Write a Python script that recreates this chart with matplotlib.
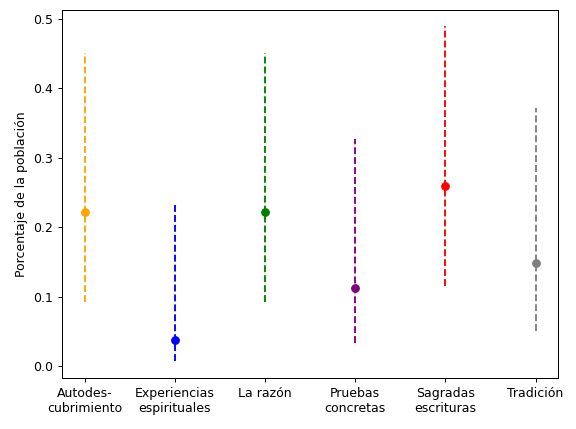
import matplotlib
matplotlib.use("Agg")
import matplotlib.pyplot as plt

labels = ["Autodes-\ncubrimiento", "Experiencias\nespirituales", "La razón",
          "Pruebas\nconcretas", "Sagradas\nescrituras", "Tradición"]
means = [0.222, 0.037, 0.222, 0.112, 0.259, 0.149]
lows = [0.092, 0.007, 0.092, 0.033, 0.115, 0.050]
highs = [0.451, 0.232, 0.451, 0.327, 0.489, 0.371]
colors = ["orange", "blue", "green", "purple", "red", "gray"]

fig, ax = plt.subplots(figsize=(6.4, 4.77), dpi=90)
for i in range(len(labels)):
    ax.vlines(i, lows[i], highs[i], colors=colors[i], linestyles="--")
    ax.plot(i, means[i], "o", color=colors[i])

ax.set_xticks(range(len(labels)))
ax.set_xticklabels(labels)
ax.set_ylabel("Porcentaje de la población")
fig.subplots_adjust(left=0.108, right=0.969, top=0.977, bottom=0.119)
fig.savefig("out.png")
